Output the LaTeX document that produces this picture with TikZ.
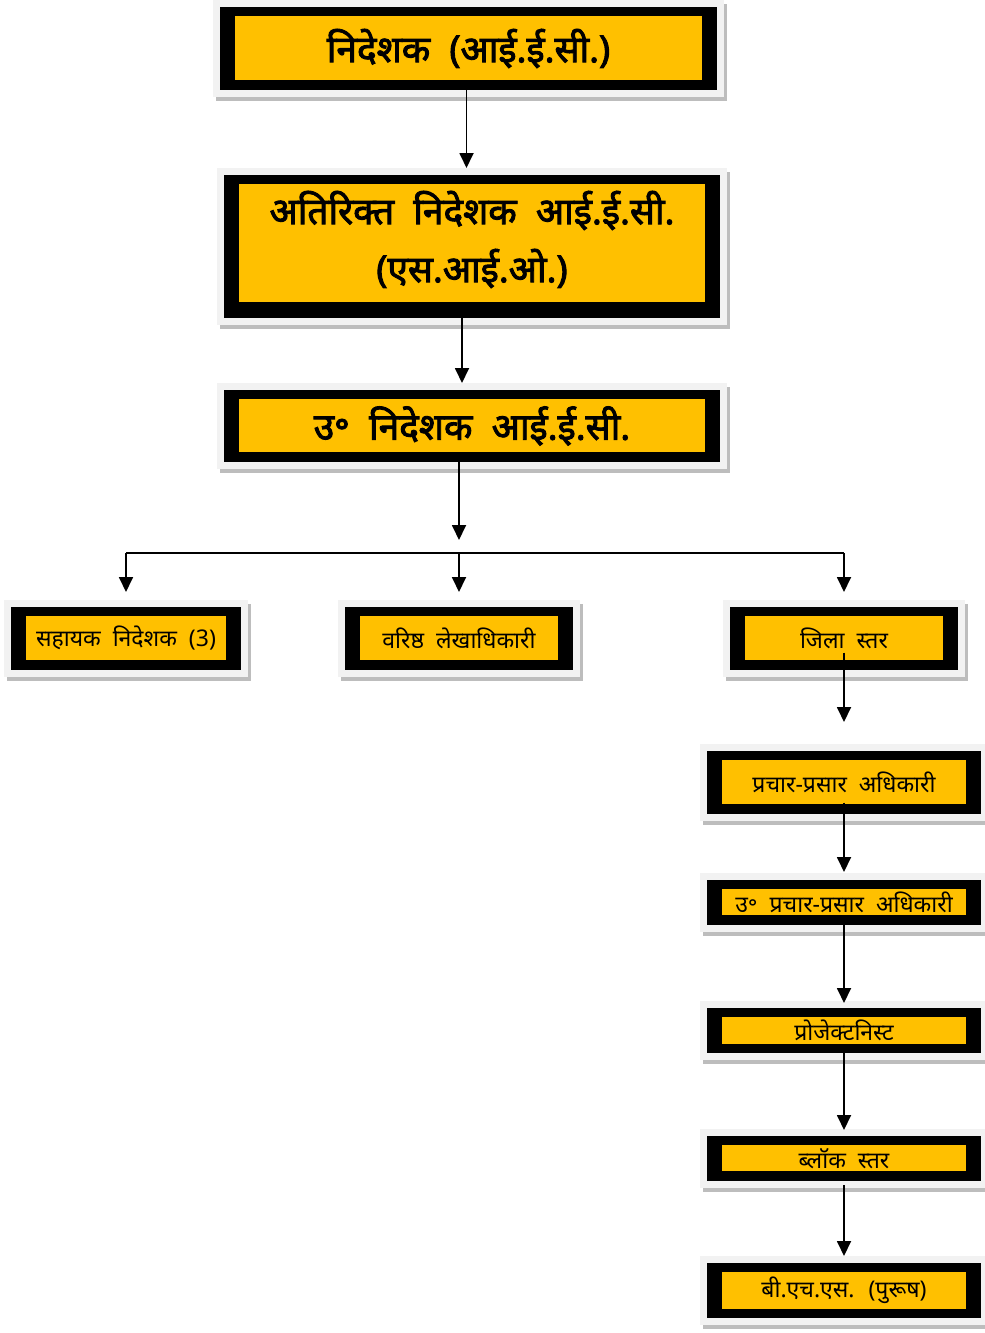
\documentclass[tikz,border=0pt]{standalone}
\usepackage{fontspec}
\newfontfamily\deva[Script=Devanagari,WordSpace=2]{Noto Sans}
\newfontfamily\devabold[Script=Devanagari,WordSpace=2,FakeBold=2.5]{Noto Sans}
\usetikzlibrary{arrows.meta}
\definecolor{boxyellow}{HTML}{FFC000}
\definecolor{panelgray}{HTML}{F2F2F2}
\definecolor{shadowgray}{HTML}{BDBDBD}
\begin{document}
\begin{tikzpicture}[x=1pt,y=-1pt,inner sep=0pt,outer sep=0pt,line width=1.8pt,
>={Triangle[width=14pt,length=15pt]},
orgbox/.style={fill=black,font=\deva\fontsize{23}{24}\selectfont,
  preaction={draw=shadowgray,line width=14pt,transform canvas={shift={(3pt,-4pt)}}},
  preaction={draw=panelgray,line width=14pt},
  path picture={\fill[boxyellow] ([shift={(15pt,-9pt)}]path picture bounding box.north west)
    rectangle ([shift={(-15pt,#1pt)}]path picture bounding box.south east);}},
orgbox/.default=10,
headbox/.style={orgbox=#1,font=\devabold\fontsize{37}{58}\selectfont},
headbox/.default=10]
\useasboundingbox (0,0) rectangle (985,1333);
% top of the chart
\draw (468.5,48.5) node[headbox,minimum width=497pt,minimum height=83pt] (dir) {निदेशक (आई.ई.सी.)};
\draw (472,246.5) node[headbox=16,minimum width=496pt,minimum height=143pt,align=center,text depth=20pt] (adir) {अतिरिक्त निदेशक आई.ई.सी.\\(एस.आई.ओ.)};
\draw (472,426) node[headbox,minimum width=496pt,minimum height=72pt] (ddir) {उ॰ निदेशक आई.ई.सी.};
% second row
\draw (126,638.5) node[orgbox,minimum width=230pt,minimum height=63pt] (asd) {सहायक निदेशक (3)};
\draw (459,638.5) node[orgbox,minimum width=228pt,minimum height=63pt] (sao) {वरिष्ठ लेखाधिकारी};
\draw (844,638.5) node[orgbox,minimum width=228pt,minimum height=63pt] (dist) {जिला स्तर};
% district column
\draw (844,782.5) node[orgbox,minimum width=274pt,minimum height=63pt] (ppo) {प्रचार-प्रसार अधिकारी};
\draw (844,902.5) node[orgbox,minimum width=274pt,minimum height=45pt] (dppo) {\raisebox{-5pt}{उ॰ प्रचार-प्रसार अधिकारी}};
\draw (844,1030.5) node[orgbox=9,minimum width=274pt,minimum height=45pt] (proj) {\raisebox{-3pt}{प्रोजेक्टनिस्ट}};
\draw (844,1158.5) node[orgbox,minimum width=274pt,minimum height=45pt] (blk) {\raisebox{-5pt}{ब्लॉक स्तर}};
\draw (844,1290.5) node[orgbox=9,minimum width=274pt,minimum height=55pt] (bhs) {बी.एच.एस. (पुरूष)};
\coordinate (bar) at (459,553);
% connectors
\draw[->,shorten >=7pt] ([xshift=-2pt]dir.south) -- ([xshift=-2pt]dir.south |- adir.north);
\draw[->,shorten >=7pt] ([xshift=-10pt]adir.south) -- ([xshift=-10pt]adir.south |- ddir.north);
\draw[->] (bar |- ddir.south) -- ([yshift=13pt]bar);
\draw (bar -| asd) -- (bar -| dist);
\draw[->,shorten >=15pt] (bar -| asd) -- (asd.north);
\draw[->,shorten >=15pt] (bar) -- (sao.north);
\draw[->,shorten >=15pt] (bar -| dist) -- (dist.north);
\draw[->,shorten >=29pt] ([yshift=-14pt]dist.center) -- (ppo.north);
\draw[->,shorten >=8pt] ([yshift=-20pt]ppo.center) -- (dppo.north);
\draw[->,shorten >=5pt] (dppo.south) -- (proj.north);
\draw[->,shorten >=6pt] (proj.south) -- (blk.north);
\draw[->,shorten >=7pt] ([yshift=-4pt]blk.south) -- (bhs.north);
\end{tikzpicture}
\end{document}
